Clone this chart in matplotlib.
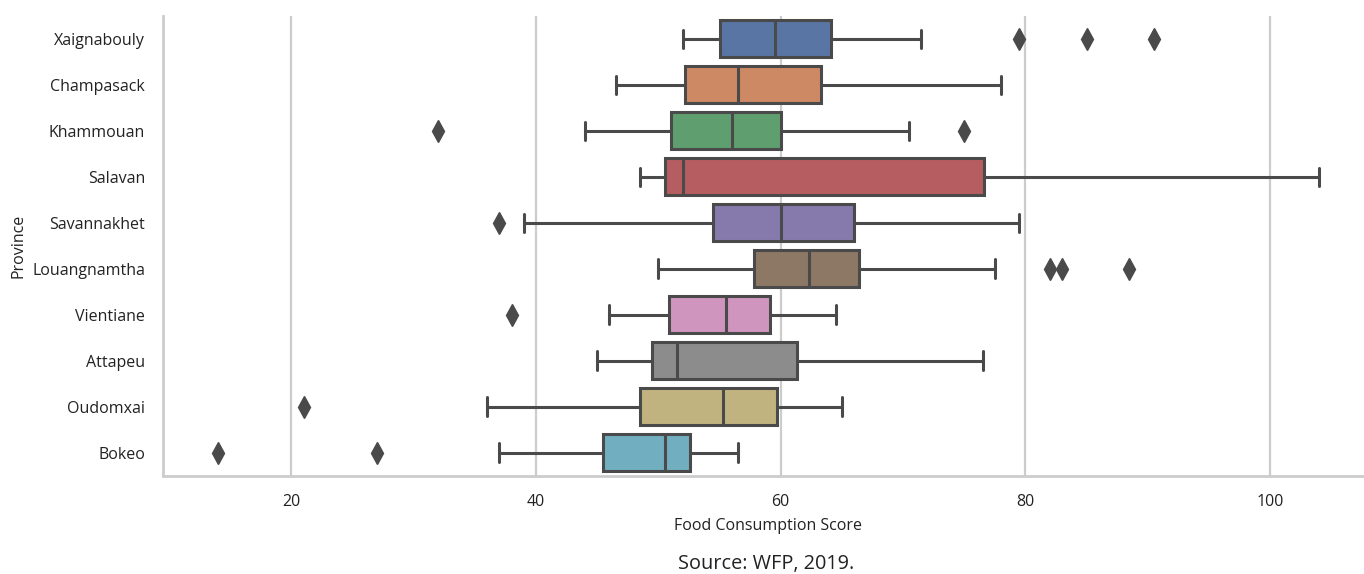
import matplotlib
matplotlib.use("Agg")
import matplotlib.pyplot as plt
import seaborn as sns

sns.set_theme(style="whitegrid")
plt.rcParams['font.family'] = ['Open Sans', 'DejaVu Sans']

# box stats (Food Consumption Score)
provinces = ['Xaignabouly', 'Champasack', 'Khammouan', 'Salavan', 'Savannakhet',
             'Louangnamtha', 'Vientiane', 'Attapeu', 'Oudomxai', 'Bokeo']
whis_lo = [52.0, 46.5, 44.0, 48.5, 39.0, 50.0, 46.0, 45.0, 36.0, 37.0]
q1 = [55.0, 52.2, 51.0, 50.5, 54.5, 57.8, 50.9, 49.5, 48.5, 45.5]
median = [59.5, 56.5, 56.0, 52.0, 60.0, 62.3, 55.5, 51.5, 55.3, 50.5]
q3 = [64.1, 63.3, 60.0, 76.6, 66.0, 66.4, 59.1, 61.3, 59.7, 52.6]
whis_hi = [71.5, 78.0, 70.5, 104.0, 79.5, 77.5, 64.5, 76.5, 65.0, 56.5]
outliers = [[79.5, 85.0, 90.5], [], [32.0, 75.0], [], [37.0],
            [82.0, 83.0, 88.5], [38.0], [], [21.0], [14.0, 27.0]]

stats = []
for i, p in enumerate(provinces):
    stats.append({'label': p, 'whislo': whis_lo[i], 'q1': q1[i], 'med': median[i],
                  'q3': q3[i], 'whishi': whis_hi[i], 'fliers': outliers[i]})

colors = [sns.desaturate(c, 0.75) for c in sns.color_palette("deep", 10)]
line_col = '#4a4a4a'

fig = plt.figure(figsize=(13.64, 5.74), dpi=100)
ax = fig.add_axes([163 / 1364, 98.5 / 574, 1211 / 1364, 459.6 / 574])

lw = 2.2
bp = ax.bxp(stats, positions=range(len(provinces)), vert=False, widths=0.8,
            patch_artist=True,
            boxprops=dict(edgecolor=line_col, linewidth=lw),
            medianprops=dict(color=line_col, linewidth=lw),
            whiskerprops=dict(color=line_col, linewidth=lw),
            capprops=dict(color=line_col, linewidth=lw),
            flierprops=dict(marker='d', markerfacecolor=line_col, markeredgecolor=line_col,
                            markersize=11, linestyle='none'),
            capwidths=0.4)
for patch, c in zip(bp['boxes'], colors):
    patch.set_facecolor(c)

ax.set_xlim(9.5, 108.5)
ax.set_ylim(9.5, -0.5)
ax.set_xticks([20, 40, 60, 80, 100])
ax.set_yticks(range(len(provinces)))
ax.set_yticklabels(provinces)
ax.grid(axis='x', color='#cccccc', linewidth=1.6)
ax.grid(axis='y', visible=False)
ax.set_axisbelow(True)

for s in ['top', 'right']:
    ax.spines[s].set_visible(False)
for s in ['left', 'bottom']:
    ax.spines[s].set_color('#cccccc')
    ax.spines[s].set_linewidth(2)

ax.tick_params(axis='both', length=0, labelsize=11.5, colors='#222222', pad=13)
ax.set_xlabel('Food Consumption Score', fontsize=11.5, color='#222222', labelpad=6)
ax.set_ylabel('Province', fontsize=11.5, color='#222222')
ax.yaxis.set_label_coords(-0.113, 0.5)

fig.text(766 / 1364, 1 - 564 / 574, 'Source: WFP, 2019.', ha='center', va='center',
         fontsize=14.3, color='#222222')

fig.savefig('out.png', dpi=100)
